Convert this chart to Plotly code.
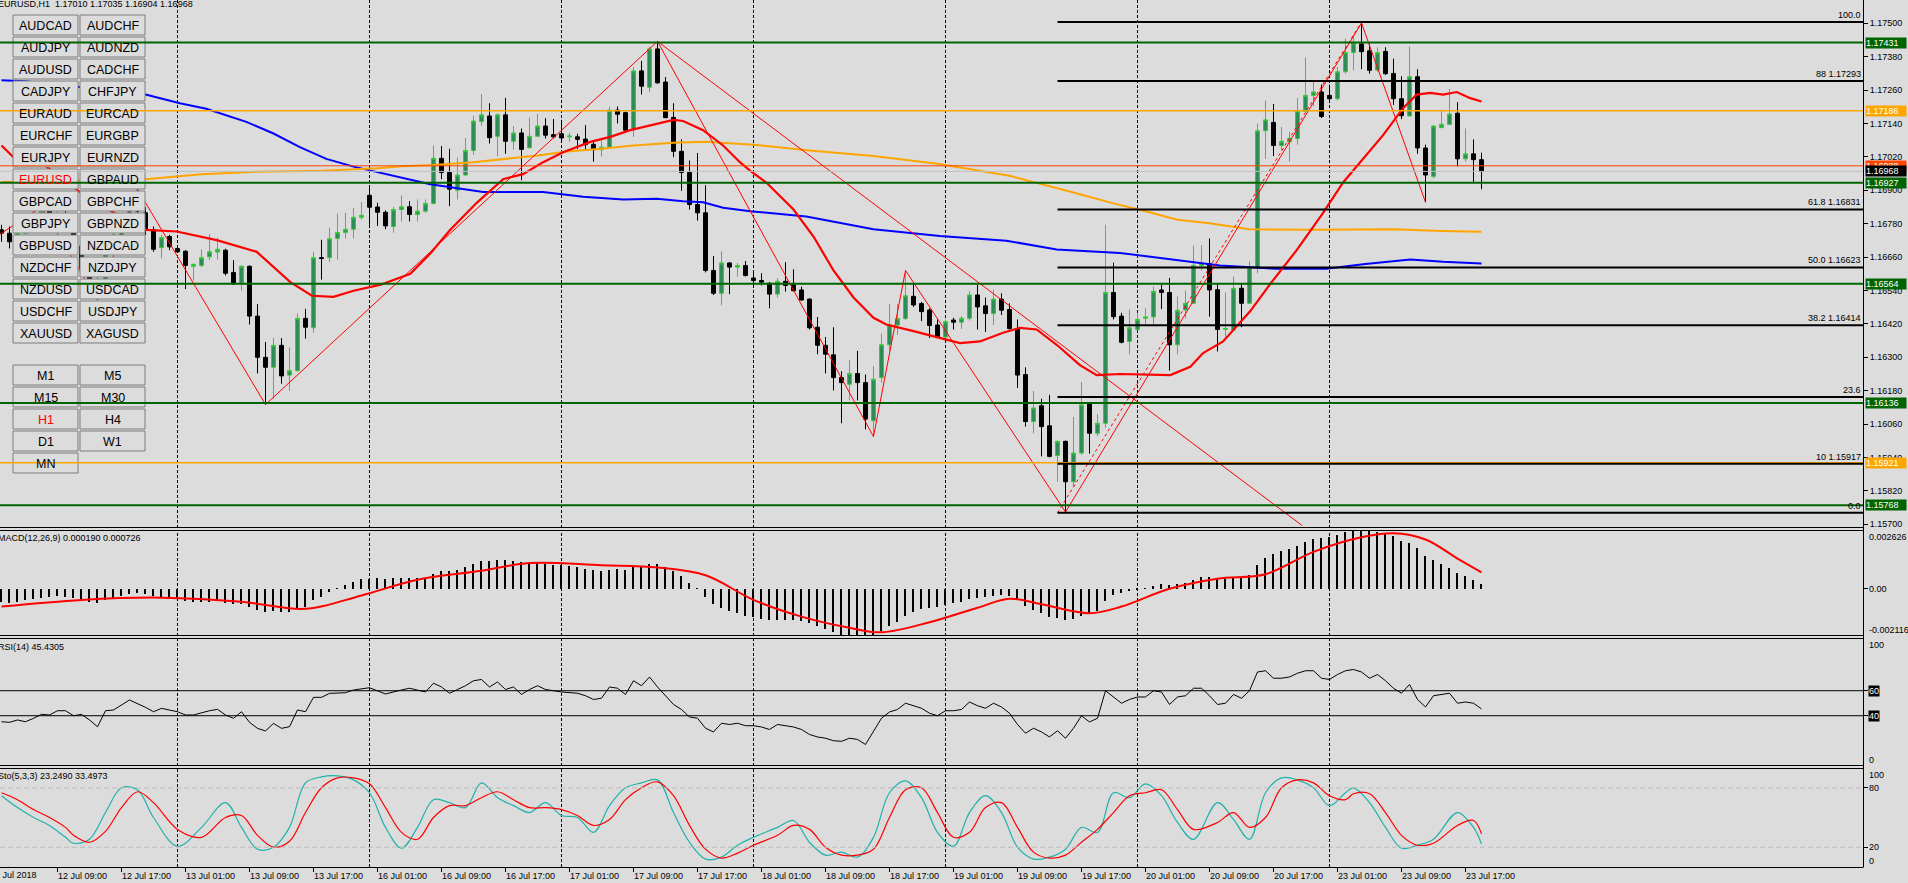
import plotly.graph_objects as go

W, H = 1908, 883
BG = "#dcdcdc"
FONT = "Liberation Sans, Arial, sans-serif"

# ---------------- texts ----------------
title_text = "EURUSD,H1  1.17010 1.17035 1.16904 1.16968"
macd_text = "MACD(12,26,9) 0.000190 0.000726"
rsi_text = "RSI(14) 45.4305"
sto_text = "Sto(5,3,3) 23.2490 33.4973"

# ---------------- candles (H1 bars, 12 Jul 02:00 .. 23 Jul 19:00) ----------------
opens = [
    1.16758, 1.16746, 1.16715, 1.16745, 1.16775, 1.16800, 1.16825, 1.16800, 1.16815, 1.16765,
    1.16700, 1.16620, 1.16560, 1.16580, 1.16700, 1.16740, 1.16785, 1.16860, 1.16819, 1.16758,
    1.16694, 1.16734, 1.16691, 1.16681, 1.16627, 1.16630, 1.16661, 1.16678, 1.16685, 1.16605,
    1.16566, 1.16627, 1.16448, 1.16300, 1.16264, 1.16343, 1.16236, 1.16252, 1.16440, 1.16406,
    1.16658, 1.16658, 1.16727, 1.16748, 1.16760, 1.16803, 1.16882, 1.16840, 1.16821, 1.16770,
    1.16831, 1.16841, 1.16813, 1.16825, 1.16853, 1.17015, 1.16964, 1.16900, 1.16955, 1.17043,
    1.17147, 1.17167, 1.17094, 1.17171, 1.17076, 1.17106, 1.17053, 1.17094, 1.17131, 1.17100,
    1.17103, 1.17092, 1.17092, 1.17084, 1.17065, 1.17046, 1.17053, 1.17188, 1.17179, 1.17119,
    1.17329, 1.17270, 1.17408, 1.17289, 1.17162, 1.17040, 1.16964, 1.16849, 1.16819, 1.16612,
    1.16530, 1.16639, 1.16624, 1.16630, 1.16585, 1.16576, 1.16566, 1.16527, 1.16573, 1.16560,
    1.16542, 1.16509, 1.16408, 1.16343, 1.16309, 1.16227, 1.16203, 1.16242, 1.16209, 1.16072,
    1.16227, 1.16345, 1.16416, 1.16439, 1.16519, 1.16493, 1.16470, 1.16416, 1.16373, 1.16434,
    1.16426, 1.16440, 1.16524, 1.16485, 1.16457, 1.16509, 1.16472, 1.16403, 1.16238, 1.16069,
    1.16126, 1.16054, 1.15947, 1.15998, 1.15853, 1.15956, 1.16132, 1.16027, 1.16063, 1.16533,
    1.16448, 1.16357, 1.16400, 1.16440, 1.16445, 1.16542, 1.16533, 1.16345, 1.16470, 1.16494,
    1.16630, 1.16636, 1.16543, 1.16400, 1.16398, 1.16548, 1.16494, 1.16622, 1.17114, 1.17144,
    1.17061, 1.17074, 1.17086, 1.17183, 1.17241, 1.17253, 1.17241, 1.17229, 1.17326, 1.17395,
    1.17426, 1.17401, 1.17332, 1.17399, 1.17320, 1.17229, 1.17167, 1.17308, 1.17052, 1.16950,
    1.17126, 1.17137, 1.17177, 1.17013, 1.17031, 1.17010,
]
highs = [
    1.16776, 1.16770, 1.16760, 1.16790, 1.16830, 1.16840, 1.16835, 1.16830, 1.16835, 1.16780,
    1.16720, 1.16640, 1.16600, 1.16720, 1.16760, 1.16800, 1.16880, 1.16904, 1.16840, 1.16770,
    1.16740, 1.16740, 1.16697, 1.16685, 1.16636, 1.16688, 1.16742, 1.16730, 1.16690, 1.16649,
    1.16630, 1.16630, 1.16491, 1.16355, 1.16369, 1.16369, 1.16336, 1.16457, 1.16474, 1.16679,
    1.16722, 1.16766, 1.16816, 1.16819, 1.16837, 1.16858, 1.16916, 1.16855, 1.16828, 1.16841,
    1.16882, 1.16861, 1.16867, 1.16867, 1.17061, 1.17059, 1.17049, 1.17018, 1.17088, 1.17168,
    1.17246, 1.17213, 1.17177, 1.17232, 1.17131, 1.17122, 1.17161, 1.17174, 1.17159, 1.17156,
    1.17153, 1.17106, 1.17103, 1.17134, 1.17074, 1.17086, 1.17201, 1.17201, 1.17183, 1.17343,
    1.17365, 1.17416, 1.17435, 1.17307, 1.17213, 1.17083, 1.17007, 1.17034, 1.16918, 1.16664,
    1.16681, 1.16642, 1.16639, 1.16646, 1.16612, 1.16602, 1.16570, 1.16585, 1.16642, 1.16616,
    1.16554, 1.16512, 1.16445, 1.16373, 1.16408, 1.16250, 1.16290, 1.16323, 1.16238, 1.16269,
    1.16385, 1.16491, 1.16491, 1.16612, 1.16567, 1.16499, 1.16476, 1.16436, 1.16436, 1.16442,
    1.16448, 1.16537, 1.16561, 1.16515, 1.16543, 1.16530, 1.16494, 1.16436, 1.16264, 1.16179,
    1.16151, 1.16165, 1.16001, 1.16001, 1.16086, 1.16211, 1.16136, 1.16096, 1.16776, 1.16640,
    1.16460, 1.16472, 1.16460, 1.16476, 1.16554, 1.16560, 1.16585, 1.16519, 1.16539, 1.16701,
    1.16703, 1.16727, 1.16566, 1.16533, 1.16590, 1.16564, 1.16645, 1.17140, 1.17222, 1.17210,
    1.17128, 1.17110, 1.17232, 1.17377, 1.17292, 1.17280, 1.17280, 1.17343, 1.17446, 1.17459,
    1.17501, 1.17428, 1.17414, 1.17414, 1.17373, 1.17310, 1.17416, 1.17335, 1.17064, 1.17134,
    1.17189, 1.17265, 1.17217, 1.17122, 1.17083, 1.17035,
]
lows = [
    1.16715, 1.16691, 1.16690, 1.16720, 1.16760, 1.16770, 1.16780, 1.16770, 1.16750, 1.16680,
    1.16600, 1.16540, 1.16505, 1.16570, 1.16680, 1.16710, 1.16770, 1.16810, 1.16740, 1.16679,
    1.16655, 1.16685, 1.16675, 1.16545, 1.16576, 1.16624, 1.16649, 1.16651, 1.16594, 1.16560,
    1.16539, 1.16418, 1.16242, 1.16130, 1.16151, 1.16205, 1.16179, 1.16248, 1.16367, 1.16388,
    1.16579, 1.16642, 1.16651, 1.16727, 1.16727, 1.16794, 1.16776, 1.16772, 1.16760, 1.16748,
    1.16788, 1.16788, 1.16788, 1.16819, 1.16849, 1.16940, 1.16843, 1.16867, 1.16952, 1.17027,
    1.17132, 1.17068, 1.17023, 1.17031, 1.17046, 1.16936, 1.17049, 1.17092, 1.17086, 1.17086,
    1.17076, 1.17074, 1.17049, 1.17046, 1.17003, 1.17021, 1.17049, 1.17140, 1.17112, 1.17092,
    1.17244, 1.17253, 1.17283, 1.17159, 1.17019, 1.16898, 1.16831, 1.16791, 1.16605, 1.16524,
    1.16487, 1.16527, 1.16590, 1.16590, 1.16558, 1.16558, 1.16476, 1.16515, 1.16536, 1.16537,
    1.16503, 1.16400, 1.16311, 1.16242, 1.16181, 1.16063, 1.16145, 1.16145, 1.16041, 1.16015,
    1.16209, 1.16321, 1.16381, 1.16434, 1.16481, 1.16430, 1.16369, 1.16369, 1.16366, 1.16400,
    1.16402, 1.16432, 1.16400, 1.16391, 1.16416, 1.16452, 1.16400, 1.16190, 1.16051, 1.16027,
    1.15944, 1.15940, 1.15853, 1.15744, 1.15835, 1.15950, 1.15954, 1.16017, 1.16047, 1.16436,
    1.16350, 1.16311, 1.16398, 1.16420, 1.16420, 1.16473, 1.16252, 1.16311, 1.16440, 1.16493,
    1.16612, 1.16446, 1.16321, 1.16373, 1.16394, 1.16408, 1.16491, 1.16602, 1.17013, 1.17023,
    1.17043, 1.17003, 1.17064, 1.17180, 1.17201, 1.17160, 1.17222, 1.17222, 1.17319, 1.17331,
    1.17335, 1.17319, 1.17326, 1.17314, 1.17207, 1.17156, 1.17165, 1.17031, 1.16857, 1.16942,
    1.17122, 1.17134, 1.16986, 1.17003, 1.16930, 1.16904,
]
closes = [
    1.16746, 1.16715, 1.16745, 1.16775, 1.16800, 1.16825, 1.16800, 1.16815, 1.16765, 1.16700,
    1.16620, 1.16560, 1.16580, 1.16700, 1.16740, 1.16785, 1.16860, 1.16825, 1.16758, 1.16688,
    1.16730, 1.16697, 1.16679, 1.16630, 1.16634, 1.16658, 1.16679, 1.16688, 1.16602, 1.16564,
    1.16627, 1.16448, 1.16300, 1.16264, 1.16343, 1.16233, 1.16252, 1.16440, 1.16408, 1.16658,
    1.16655, 1.16726, 1.16748, 1.16760, 1.16803, 1.16810, 1.16839, 1.16821, 1.16772, 1.16831,
    1.16841, 1.16813, 1.16825, 1.16853, 1.17015, 1.16964, 1.16904, 1.16955, 1.17043, 1.17149,
    1.17171, 1.17089, 1.17171, 1.17076, 1.17106, 1.17047, 1.17094, 1.17131, 1.17098, 1.17092,
    1.17088, 1.17095, 1.17083, 1.17064, 1.17046, 1.17055, 1.17188, 1.17173, 1.17116, 1.17329,
    1.17274, 1.17408, 1.17286, 1.17161, 1.17040, 1.16964, 1.16849, 1.16819, 1.16612, 1.16530,
    1.16639, 1.16624, 1.16630, 1.16594, 1.16576, 1.16570, 1.16527, 1.16573, 1.16558, 1.16539,
    1.16506, 1.16406, 1.16343, 1.16311, 1.16227, 1.16209, 1.16242, 1.16209, 1.16078, 1.16221,
    1.16345, 1.16416, 1.16439, 1.16521, 1.16488, 1.16464, 1.16414, 1.16373, 1.16428, 1.16426,
    1.16440, 1.16524, 1.16481, 1.16457, 1.16509, 1.16469, 1.16403, 1.16236, 1.16069, 1.16118,
    1.16051, 1.15944, 1.15998, 1.15853, 1.15956, 1.16129, 1.16027, 1.16063, 1.16533, 1.16446,
    1.16354, 1.16406, 1.16436, 1.16445, 1.16537, 1.16533, 1.16345, 1.16469, 1.16494, 1.16630,
    1.16636, 1.16542, 1.16400, 1.16403, 1.16548, 1.16494, 1.16624, 1.17114, 1.17153, 1.17061,
    1.17076, 1.17086, 1.17185, 1.17241, 1.17253, 1.17165, 1.17229, 1.17326, 1.17395, 1.17429,
    1.17398, 1.17331, 1.17395, 1.17319, 1.17229, 1.17168, 1.17308, 1.17052, 1.16955, 1.17131,
    1.17137, 1.17174, 1.17013, 1.17031, 1.17010, 1.16968,
]

# ---------------- time axis ----------------
tick_bars = [7, 15, 23, 31, 39, 47, 55, 63, 71, 79, 87, 95, 103, 111, 119, 127, 135, 143, 151, 159, 167, 175, 183]
tick_labels = ["12 Jul 09:00", "12 Jul 17:00", "13 Jul 01:00", "13 Jul 09:00", "13 Jul 17:00",
               "16 Jul 01:00", "16 Jul 09:00", "16 Jul 17:00", "17 Jul 01:00", "17 Jul 09:00",
               "17 Jul 17:00", "18 Jul 01:00", "18 Jul 09:00", "18 Jul 17:00", "19 Jul 01:00",
               "19 Jul 09:00", "19 Jul 17:00", "20 Jul 01:00", "20 Jul 09:00", "20 Jul 17:00",
               "23 Jul 01:00", "23 Jul 09:00", "23 Jul 17:00"]
first_date_label = "12 Jul 2018"
day_start_bars = [22, 46, 70, 94, 118, 142, 166]

# ---------------- moving averages ----------------
ma_blue_bars = [0, 3, 10, 18, 22.3, 25.6, 30.6, 34, 37.3, 40.6, 44, 47.3, 53.6, 60.2, 67.7, 72.7, 77.7,
                81.9, 85.2, 87.7, 90.2, 93.6, 100.6, 109, 117.3, 125.6, 131.9, 139.8, 146.9, 152.3,
                159.4, 165.6, 170.2, 176.1, 180.2, 185]
ma_blue = [1.17295, 1.17292, 1.17270, 1.17244, 1.17213, 1.17193, 1.17146, 1.17104, 1.17055, 1.17013,
           1.16985, 1.16964, 1.16922, 1.16894, 1.16894, 1.16877, 1.16867, 1.16870, 1.16861, 1.16857,
           1.16837, 1.16825, 1.16806, 1.16760, 1.16736, 1.16719, 1.16687, 1.16675, 1.16649, 1.16630,
           1.16618, 1.16618, 1.16634, 1.16651, 1.16643, 1.16637]
ma_orange_bars = [0, 18, 25, 32, 40, 47, 50, 54, 59, 63, 67, 71, 75, 79, 84, 88, 92, 94, 101, 109, 117,
                  126, 134, 139, 143, 147, 151, 156, 164, 174, 180, 185]
ma_orange = [1.16930, 1.16940, 1.16958, 1.16967, 1.16970, 1.16979, 1.16986, 1.16991, 1.17001, 1.17013,
             1.17025, 1.17040, 1.17049, 1.17061, 1.17071, 1.17074, 1.17068, 1.17064, 1.17043, 1.17023,
             1.16995, 1.16952, 1.16892, 1.16853, 1.16825, 1.16794, 1.16782, 1.16760, 1.16758, 1.16760,
             1.16754, 1.16751]
ma_red_bars = [0, 1.5, 5.2, 10, 14, 18.1, 21.9, 26.9, 31.9, 36.1, 38.8, 41.5, 44, 47.3, 51.1, 53.6, 56.1,
               59.4, 62.7, 65.2, 67.7, 70.2, 73.6, 76.1, 78.6, 81.9, 84, 85.2, 87.7, 90.2, 92.3, 93.6,
               95.6, 99, 101.5, 104, 106.5, 109, 110.6, 114, 117.3, 119.8, 122.3, 125.2, 127.3, 129.4,
               131.9, 134.8, 136.9, 139.8, 146.1, 148.6, 150.2, 152.7, 156.1, 158.6, 161.9, 165.2,
               167.7, 170.2, 172.7, 175.2, 176.9, 178.6, 180.2, 181.9, 183.6, 185]
ma_red = [1.17061, 1.17019, 1.16994, 1.16890, 1.16820, 1.16758, 1.16752, 1.16721, 1.16679, 1.16570,
          1.16521, 1.16517, 1.16539, 1.16560, 1.16600, 1.16673, 1.16758, 1.16855, 1.16940, 1.16958,
          1.17001, 1.17037, 1.17074, 1.17092, 1.17116, 1.17140, 1.17153, 1.17149, 1.17116, 1.17061,
          1.17001, 1.16970, 1.16928, 1.16831, 1.16734, 1.16612, 1.16515, 1.16442, 1.16418, 1.16394,
          1.16369, 1.16351, 1.16357, 1.16388, 1.16406, 1.16400, 1.16345, 1.16272, 1.16236, 1.16240,
          1.16236, 1.16266, 1.16315, 1.16357, 1.16466, 1.16564, 1.16685, 1.16819, 1.16928, 1.17013,
          1.17098, 1.17195, 1.17244, 1.17250, 1.17244, 1.17253, 1.17231, 1.17219]

# ---------------- drawing objects ----------------
zigzag_bars = [-1, 5, 12, 17, 33, 82, 109, 113, 133, 170, 178]
zigzag_prices = [1.16727, 1.16840, 1.16505, 1.16904, 1.16130, 1.17435, 1.16015, 1.16612, 1.15744, 1.17501, 1.16857]
trend_bars = [82, 162.6]
trend_prices = [1.17435, 1.15695]
fib_anchor_bars = [132, 170]
fib_anchor_prices = [1.157413, 1.175047]
fib_labels = ["100.0", "88 1.17293", "61.8 1.16831", "50.0 1.16623", "38.2 1.16414", "23.6", "10 1.15917", "0.0"]
fib_prices = [1.175047, 1.172931, 1.168311, 1.166230, 1.164149, 1.161575, 1.159176, 1.157413]

green_levels = [1.17431, 1.16927, 1.16564, 1.16136, 1.15768]
orange_levels = [1.17186, 1.15921]
ask_price = 1.16988
bid_price = 1.16968

price_ticks = [1.17500, 1.17380, 1.17260, 1.17140, 1.17020, 1.16900, 1.16780, 1.16660,
               1.16540, 1.16420, 1.16300, 1.16180, 1.16060, 1.15940, 1.15820, 1.15700]

# ---------------- MACD ----------------
macd_hist = [
    -0.00060, -0.00062, -0.00058, -0.00052, -0.00045, -0.00040, -0.00038, -0.00034, -0.00035, -0.00042,
    -0.00050, -0.00060, -0.00062, -0.00052, -0.00042, -0.00033, -0.00022, -0.00018, -0.00022, -0.00032,
    -0.00036, -0.00040, -0.00045, -0.00055, -0.00060, -0.00060, -0.00058, -0.00055, -0.00062, -0.00070,
    -0.00070, -0.00080, -0.00095, -0.00105, -0.00100, -0.00105, -0.00102, -0.00088, -0.00080, -0.00050,
    -0.00035, -0.00015, 0.00002, 0.00018, 0.00032, 0.00042, 0.00045, 0.00046, 0.00045, 0.00046,
    0.00048, 0.00048, 0.00048, 0.00050, 0.00068, 0.00078, 0.00080, 0.00084, 0.00095, 0.00112,
    0.00125, 0.00125, 0.00130, 0.00128, 0.00125, 0.00118, 0.00115, 0.00115, 0.00112, 0.00108,
    0.00104, 0.00100, 0.00096, 0.00090, 0.00083, 0.00078, 0.00085, 0.00088, 0.00085, 0.00098,
    0.00102, 0.00112, 0.00110, 0.00098, 0.00078, 0.00055, 0.00025, 0.00002, -0.00035, -0.00068,
    -0.00085, -0.00100, -0.00110, -0.00120, -0.00128, -0.00135, -0.00142, -0.00142, -0.00142, -0.00142,
    -0.00145, -0.00155, -0.00168, -0.00180, -0.00195, -0.00205, -0.00208, -0.00210, -0.002116, -0.00205,
    -0.00190, -0.00168, -0.00148, -0.00122, -0.00105, -0.00092, -0.00085, -0.00080, -0.00072, -0.00066,
    -0.00060, -0.00048, -0.00042, -0.00038, -0.00032, -0.00030, -0.00032, -0.00050, -0.00078, -0.00095,
    -0.00110, -0.00125, -0.00132, -0.00140, -0.00135, -0.00120, -0.00112, -0.00100, -0.00055, -0.00030,
    -0.00020, -0.00012, -0.00005, 0.00002, 0.00012, 0.00020, 0.00015, 0.00020, 0.00026, 0.00040,
    0.00052, 0.00052, 0.00045, 0.00042, 0.00050, 0.00052, 0.00062, 0.00105, 0.00138, 0.00155,
    0.00168, 0.00178, 0.00192, 0.00210, 0.00222, 0.00225, 0.00230, 0.00240, 0.00252, 0.00260,
    0.002626, 0.00260, 0.00255, 0.00248, 0.00235, 0.00215, 0.00205, 0.00180, 0.00148, 0.00128,
    0.00110, 0.00092, 0.00070, 0.00055, 0.00040, 0.00019,
]
macd_sig_bars = [0, 10, 20, 30, 38, 45, 52, 60, 66, 75, 82, 88, 94, 100, 106, 110, 116, 122, 126, 130,
                 136, 140, 146, 152, 158, 164, 170, 174, 178, 182, 185]
macd_signal = [-0.00080, -0.00050, -0.00040, -0.00058, -0.00090, -0.00030, 0.00040, 0.00080, 0.00115,
               0.00105, 0.00095, 0.00060, -0.00050, -0.00125, -0.00175, -0.00195, -0.00150, -0.00085,
               -0.00045, -0.00070, -0.00110, -0.00080, 0.00000, 0.00045, 0.00065, 0.00165, 0.00230,
               0.00248, 0.00220, 0.00135, 0.000726]
macd_max, macd_min = 0.002626, -0.002116

# ---------------- RSI(14) ----------------
rsi_bars = [0, 1, 2, 3, 4, 5, 6, 7, 8, 9, 10, 11, 12, 13, 14, 16, 18, 19, 20, 22, 23, 24, 26, 27, 28, 29,
            30, 31, 32, 33, 34, 35, 36, 37, 38, 39, 40, 41, 43, 44, 46, 47, 48, 50, 51, 53, 54, 55, 56,
            57, 58, 59, 60, 61, 62, 63, 64, 65, 66, 67, 68, 69, 70, 72, 73, 74, 75, 76, 77, 78, 79, 80,
            81, 82, 83, 84, 85, 86, 87, 88, 89, 90, 91, 92, 93, 94, 95, 96, 97, 98, 99, 100, 101, 102,
            103, 104, 105, 106, 107, 108, 109, 110, 111, 112, 113, 114, 115, 116, 117, 118, 119, 120,
            121, 122, 123, 124, 125, 126, 127, 128, 129, 130, 131, 132, 133, 134, 135, 136, 137, 138,
            139, 140, 141, 142, 143, 144, 145, 146, 147, 148, 149, 150, 151, 152, 153, 154, 155, 156,
            157, 158, 159, 160, 161, 162, 163, 164, 165, 166, 167, 168, 169, 170, 171, 172, 173, 174,
            175, 176, 177, 178, 179, 180, 181, 182, 183, 184, 185]
rsi_vals = [35.2, 34.7, 36.6, 35.2, 37.9, 41.1, 40.6, 44.0, 44.0, 40.0, 41.1, 36.6, 31.2, 44.0, 44.6, 52.6,
            46.7, 43.2, 45.9, 43.2, 40.6, 40.6, 44.0, 45.1, 40.6, 37.9, 43.2, 34.7, 29.9, 27.8, 33.9, 29.9,
            31.2, 44.6, 43.2, 54.7, 54.7, 57.9, 58.4, 60.6, 62.4, 60.0, 57.4, 60.6, 62, 59, 66, 63, 58,
            61, 64, 68, 69, 63, 67, 61, 63, 57, 61, 64, 61, 60, 59, 58, 56, 53, 54, 63, 62, 57, 68, 64,
            71, 63, 56, 49, 45, 39, 38, 30, 27, 34, 33, 34, 32, 32, 31, 29, 33, 32, 31, 29, 25, 23,
            22, 20, 19.5, 22, 21, 17, 28, 38, 43, 45, 50, 48, 46, 42, 40, 44, 44, 45,
            51, 48, 46, 50, 47, 42, 33, 26, 30, 27, 23, 28, 22, 30, 40, 35, 38, 60,
            55, 50, 53, 55, 55, 60, 59, 49, 55, 56, 62, 62, 56, 49, 50, 57, 54, 60,
            75, 76, 70, 70, 71, 74, 76, 76, 70, 69, 73, 76, 77, 75, 70, 73, 68, 62,
            58, 65, 53, 47, 56, 57, 58, 50, 51, 50, 45.43]
rsi_levels = [60, 40]

# ---------------- Stochastic(5,3,3) ----------------
sto_bars = [0, 2, 4, 6, 8, 9, 11, 13, 15, 17, 19, 22, 25, 28, 30, 32, 34, 36, 38, 40, 42, 44, 46, 48, 50,
            52, 54, 56, 58, 60, 62, 64, 66, 68, 70, 72, 74, 76, 78, 80, 82, 84, 86, 88, 90, 92, 94, 97,
            99, 101, 103, 105, 107, 109, 111, 113, 115, 117, 119, 121, 123, 125, 127, 129, 131, 133,
            135, 137, 139, 141, 143, 145, 147, 149, 152, 154, 156, 158, 160, 162, 164, 166, 168, 169,
            171, 173, 175, 177, 179, 182, 184, 185]
sto_k = [72, 60, 50, 42, 30, 24, 28, 55, 80, 78, 50, 21, 40, 65, 40, 18, 20, 40, 85, 91, 92, 88, 75, 40,
         19, 40, 68, 65, 60, 85, 70, 62, 55, 65, 52, 50, 35, 62, 80, 85, 88, 55, 25, 8, 10, 22, 30, 40,
         47, 25, 12, 15, 10, 30, 75, 87, 70, 35, 21, 55, 72, 55, 20, 8, 10, 18, 40, 35, 75, 70, 84, 72,
         45, 28, 65, 48, 28, 75, 90, 88, 80, 62, 75, 80, 65, 40, 19, 22, 28, 55, 40, 23.249]
sto_d = [75, 68, 58, 50, 40, 32, 25, 36, 60, 76, 65, 38, 30, 50, 52, 32, 20, 26, 55, 80, 90, 90, 84, 60,
         35, 28, 50, 62, 62, 70, 76, 68, 60, 60, 58, 52, 42, 48, 68, 80, 86, 72, 42, 18, 9, 14, 22, 32,
         42, 38, 20, 12, 12, 18, 50, 78, 80, 55, 30, 35, 60, 65, 40, 15, 9, 12, 25, 38, 55, 72, 75, 78,
         58, 38, 45, 55, 40, 50, 80, 88, 85, 72, 68, 74, 74, 55, 32, 22, 24, 42, 47, 33.497]
sto_levels = [80, 20]

# ---------------- quick-switch buttons ----------------
pair_buttons = [["AUDCAD", "AUDCHF"], ["AUDJPY", "AUDNZD"], ["AUDUSD", "CADCHF"], ["CADJPY", "CHFJPY"],
                ["EURAUD", "EURCAD"], ["EURCHF", "EURGBP"], ["EURJPY", "EURNZD"], ["EURUSD", "GBPAUD"],
                ["GBPCAD", "GBPCHF"], ["GBPJPY", "GBPNZD"], ["GBPUSD", "NZDCAD"], ["NZDCHF", "NZDJPY"],
                ["NZDUSD", "USDCAD"], ["USDCHF", "USDJPY"], ["XAUUSD", "XAGUSD"]]
tf_buttons = [["M1", "M5"], ["M15", "M30"], ["H1", "H4"], ["D1", "W1"], ["MN"]]
active_buttons = ["EURUSD", "H1"]

# ================= layout geometry (pixels) =================
PLOT_R = 1863
BAR_PX = 8.0
X0_PX = 1.5
x_range = [-X0_PX / BAR_PX, (PLOT_R - X0_PX) / BAR_PX]
PRICE_TOP = 1.175837
PX_PER_PRICE = 27833.0
P_MAIN = (0, 528)
P_MACD = (530, 636)
P_RSI = (638, 766)
P_STO = (768, 867)
RSI_RANGE = [-0.24, 102.2]


def fx(p):
    return p / W


def fy(p):
    return 1 - p / H


bars = list(range(len(opens)))
price_range = [PRICE_TOP - P_MAIN[1] / PX_PER_PRICE, PRICE_TOP]

fig = go.Figure()
fig.add_trace(go.Candlestick(
    x=bars, open=opens, high=highs, low=lows, close=closes, xaxis="x", yaxis="y",
    increasing=dict(line=dict(color="#32cd32", width=1), fillcolor="#2e8b57"),
    decreasing=dict(line=dict(color="#000000", width=1), fillcolor="#000000"),
    whiskerwidth=0, hoverinfo="skip", showlegend=False))
fig.add_trace(go.Scatter(x=ma_blue_bars, y=ma_blue, mode="lines", line=dict(color="#0000ff", width=2),
                         xaxis="x", yaxis="y", hoverinfo="skip"))
fig.add_trace(go.Scatter(x=ma_orange_bars, y=ma_orange, mode="lines", line=dict(color="#ffa500", width=2),
                         xaxis="x", yaxis="y", hoverinfo="skip"))
fig.add_trace(go.Scatter(x=ma_red_bars, y=ma_red, mode="lines", line=dict(color="#ff0000", width=2.2),
                         xaxis="x", yaxis="y", hoverinfo="skip"))
fig.add_trace(go.Scatter(x=zigzag_bars, y=zigzag_prices, mode="lines", line=dict(color="#ff0000", width=1),
                         xaxis="x", yaxis="y", hoverinfo="skip"))
fig.add_trace(go.Scatter(x=trend_bars, y=trend_prices, mode="lines", line=dict(color="#ff0000", width=1),
                         xaxis="x", yaxis="y", hoverinfo="skip"))
fig.add_trace(go.Scatter(x=fib_anchor_bars, y=fib_anchor_prices, mode="lines",
                         line=dict(color="#ff0000", width=1, dash="3px,3px"),
                         xaxis="x", yaxis="y", hoverinfo="skip"))
# MACD
fig.add_trace(go.Bar(x=bars, y=macd_hist, width=0.14, marker=dict(color="#000000", line=dict(width=0)),
                     xaxis="x", yaxis="y2", hoverinfo="skip"))
fig.add_trace(go.Scatter(x=macd_sig_bars, y=macd_signal, mode="lines", line=dict(color="#ff0000", width=2, shape="spline"),
                         xaxis="x", yaxis="y2", hoverinfo="skip"))
# RSI
fig.add_trace(go.Scatter(x=rsi_bars, y=rsi_vals, mode="lines", line=dict(color="#000000", width=1),
                         xaxis="x", yaxis="y3", hoverinfo="skip"))
# Stochastic
fig.add_trace(go.Scatter(x=sto_bars, y=sto_k, mode="lines", line=dict(color="#20b2aa", width=1.2, shape="spline"),
                         xaxis="x", yaxis="y4", hoverinfo="skip"))
fig.add_trace(go.Scatter(x=sto_bars, y=sto_d, mode="lines", line=dict(color="#ff0000", width=1.2, shape="spline"),
                         xaxis="x", yaxis="y4", hoverinfo="skip"))

shapes = []
annotations = []
tfont = dict(family=FONT, size=9, color="#000000")

# day separators (dotted) in every panel
for ax in ["y", "y2", "y3", "y4"]:
    for b in day_start_bars:
        shapes.append(dict(type="line", xref="x", yref=ax + " domain", x0=b, x1=b, y0=0, y1=1,
                           line=dict(color="#000000", width=1, dash="3px,2px"), layer="below"))

# buttons
BTN_W, BTN_H, BTN_PITCH = 65, 20, 22
col_x = [13, 80]


def add_button(label, col, top):
    x0 = col_x[col]
    shapes.append(dict(type="rect", xref="paper", yref="paper", x0=fx(x0), x1=fx(x0 + BTN_W),
                       y0=fy(top + BTN_H), y1=fy(top), fillcolor=BG,
                       line=dict(color="#7d7d7d", width=1), layer="above"))
    annotations.append(dict(xref="paper", yref="paper", x=fx(x0 + BTN_W / 2), y=fy(top + BTN_H / 2 + 0.5),
                            text=label, showarrow=False, xanchor="center", yanchor="middle",
                            font=dict(family=FONT, size=12.5,
                                      color="#ff0000" if label in active_buttons else "#000000")))


for r, row in enumerate(pair_buttons):
    for c, lab in enumerate(row):
        add_button(lab, c, 15 + BTN_PITCH * r)
for r, row in enumerate(tf_buttons):
    for c, lab in enumerate(row):
        add_button(lab, c, 365 + BTN_PITCH * r)

# horizontal price levels
for p in green_levels:
    shapes.append(dict(type="line", xref="paper", yref="y", x0=0, x1=fx(PLOT_R), y0=p, y1=p,
                       line=dict(color="#006400", width=2), layer="above"))
for p in orange_levels:
    shapes.append(dict(type="line", xref="paper", yref="y", x0=0, x1=fx(PLOT_R), y0=p, y1=p,
                       line=dict(color="#ffa500", width=1.6), layer="above"))
shapes.append(dict(type="line", xref="paper", yref="y", x0=0, x1=fx(PLOT_R), y0=ask_price, y1=ask_price,
                   line=dict(color="#ff4500", width=1), layer="above"))
shapes.append(dict(type="line", xref="paper", yref="y", x0=0, x1=fx(PLOT_R), y0=bid_price, y1=bid_price,
                   line=dict(color="#c0c0c0", width=1), layer="above"))

# fibonacci levels
for lab, p in zip(fib_labels, fib_prices):
    shapes.append(dict(type="line", xref="x", yref="y", x0=fib_anchor_bars[0], x1=x_range[1], y0=p, y1=p,
                       line=dict(color="#000000", width=2), layer="above"))
    annotations.append(dict(xref="paper", yref="y", x=fx(PLOT_R - 1), y=p, yshift=1, text=lab,
                            showarrow=False, xanchor="right", yanchor="bottom", font=tfont,
                            borderpad=0))

# indicator level lines
for v in rsi_levels:
    shapes.append(dict(type="line", xref="paper", yref="y3", x0=0, x1=fx(PLOT_R), y0=v, y1=v,
                       line=dict(color="#000000", width=1), layer="above"))
for v in sto_levels:
    shapes.append(dict(type="line", xref="paper", yref="y4", x0=0, x1=fx(PLOT_R), y0=v, y1=v,
                       line=dict(color="#bdbdbd", width=1, dash="5px,3px"), layer="above"))

# panel borders and right axis line
for yb in [P_MAIN[1] - 0.5, P_MACD[0] + 0.5, P_MACD[1] - 0.5, P_RSI[0] + 0.5, P_RSI[1] - 0.5,
           P_STO[0] + 0.5, P_STO[1] + 0.5]:
    shapes.append(dict(type="line", xref="paper", yref="paper", x0=0, x1=fx(PLOT_R), y0=fy(yb), y1=fy(yb),
                       line=dict(color="#000000", width=1), layer="above"))
shapes.append(dict(type="line", xref="paper", yref="paper", x0=fx(PLOT_R + 0.5), x1=fx(PLOT_R + 0.5),
                   y0=fy(P_STO[1] + 0.5), y1=1, line=dict(color="#000000", width=1), layer="above"))

# price boxes on the right axis
BOX_X = PLOT_R + 2


def price_box(p, bg):
    annotations.append(dict(xref="paper", yref="y", x=fx(BOX_X), y=p, text="%.5f" % p, showarrow=False,
                            xanchor="left", yanchor="middle", bgcolor=bg, width=40, height=10,
                            align="left", borderpad=0,
                            font=dict(family=FONT, size=9, color="#ffffff")))


for p in green_levels:
    price_box(p, "#006400")
for p in orange_levels:
    price_box(p, "#ffa500")
price_box(ask_price, "#ff4500")
price_box(bid_price, "#000000")

# panel scale labels
LBL_X = fx(PLOT_R + 5)


def side_label(text, yref, y, yanchor, bg=None, color="#000000"):
    d = dict(xref="paper", yref=yref, x=LBL_X, y=y, text=text, showarrow=False, xanchor="left",
             yanchor=yanchor, font=dict(family=FONT, size=9, color=color), borderpad=0)
    if bg:
        d["bgcolor"] = bg
    annotations.append(d)


side_label("%.6f" % macd_max, "paper", fy(P_MACD[0] + 1), "top")
side_label("0.00", "y2", 0, "middle")
side_label("%.6f" % macd_min, "paper", fy(P_MACD[1]), "bottom")
side_label("100", "paper", fy(P_RSI[0] + 1), "top")
for v in rsi_levels:
    side_label(str(v), "y3", v, "middle", bg="#000000", color="#ffffff")
side_label("0", "paper", fy(P_RSI[1]), "bottom")
side_label("100", "paper", fy(P_STO[0] + 1), "top")
for v in sto_levels:
    side_label(str(v), "y4", v, "middle")
side_label("0", "paper", fy(P_STO[1]), "bottom")

# window / indicator captions
for text, ypx in [(title_text, 4), (macd_text, P_MACD[0] + 8), (rsi_text, P_RSI[0] + 9), (sto_text, P_STO[0] + 8)]:
    annotations.append(dict(xref="paper", yref="paper", x=0, xshift=-3, y=fy(ypx), text=text,
                            showarrow=False, xanchor="left", yanchor="middle", font=tfont, borderpad=0))

annotations.append(dict(xref="paper", yref="paper", x=fx(38), y=fy(875), text=first_date_label,
                        showarrow=False, xanchor="right", yanchor="middle", font=tfont, borderpad=0))

axis_common = dict(showgrid=False, zeroline=False, showline=False, fixedrange=True)
fig.update_layout(
    width=W, height=H, margin=dict(l=0, r=0, t=0, b=0),
    paper_bgcolor=BG, plot_bgcolor=BG, showlegend=False, font=dict(family=FONT, size=9, color="#000000"),
    xaxis=dict(domain=[0, fx(PLOT_R)], range=x_range, anchor="y4", tickmode="array", tickvals=tick_bars,
               ticktext=tick_labels, ticks="outside", ticklen=4, tickcolor="#000000", tickwidth=1,
               ticklabelposition="outside right", tickfont=tfont, rangeslider=dict(visible=False),
               **axis_common),
    yaxis=dict(domain=[fy(P_MAIN[1]), fy(P_MAIN[0])], range=price_range, anchor="x", side="right",
               tickmode="array", tickvals=price_ticks, tickformat=".5f", ticks="outside", ticklen=4,
               tickcolor="#000000", tickfont=tfont, **axis_common),
    yaxis2=dict(domain=[fy(P_MACD[1]), fy(P_MACD[0])], range=[macd_min, macd_max], anchor="x", side="right",
                tickmode="array", tickvals=[0], ticks="outside", ticklen=4, tickcolor="#000000",
                showticklabels=False, **axis_common),
    yaxis3=dict(domain=[fy(P_RSI[1]), fy(P_RSI[0])], range=RSI_RANGE, anchor="x", side="right",
                tickmode="array", tickvals=rsi_levels, ticks="outside", ticklen=4, tickcolor="#000000",
                showticklabels=False, **axis_common),
    yaxis4=dict(domain=[fy(P_STO[1]), fy(P_STO[0])], range=[0, 100], anchor="x", side="right",
                tickmode="array", tickvals=sto_levels, ticks="outside", ticklen=4, tickcolor="#000000",
                showticklabels=False, **axis_common),
    shapes=shapes, annotations=annotations, bargap=0,
)

fig.write_html("out.html")
